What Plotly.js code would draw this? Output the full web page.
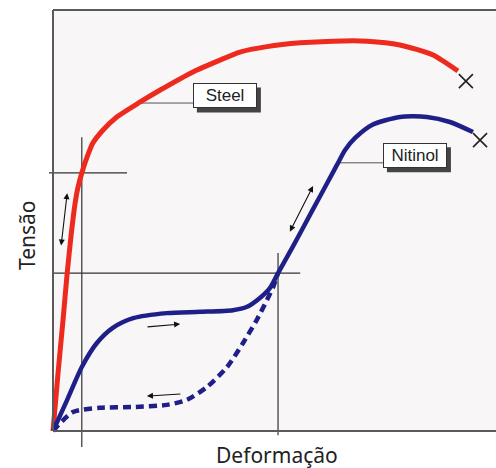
<!DOCTYPE html>
<html>
<head>
<meta charset="utf-8">
<script src="https://cdn.plot.ly/plotly-3.0.1.min.js"></script>
<style>html,body{margin:0;padding:0;background:#fff;}#chart{width:496px;height:468px;}</style>
</head>
<body>
<div id="chart"></div>
<script>
// Stress-strain curves (arbitrary units, strain 0..10, stress 0..10)
const steelStrain = [0, 0.11, 0.23, 0.32, 0.41, 0.50, 0.56, 0.65, 0.77, 0.90, 1.13, 1.44, 1.96, 2.42, 3.16, 3.77, 4.22, 4.83, 5.58, 6.32, 7.09, 7.83, 8.58, 9.14];
const steelStress = [0, 1.33, 2.68, 3.75, 4.66, 5.42, 5.77, 6.13, 6.51, 6.84, 7.15, 7.46, 7.81, 8.10, 8.53, 8.81, 9.00, 9.13, 9.22, 9.26, 9.26, 9.17, 8.93, 8.55];
const steelBreak = [9.32, 8.31];

const nitiLoadStrain = [0, 0.32, 0.65, 0.99, 1.35, 1.81, 2.57, 3.32, 4.06, 4.38, 4.67, 4.90, 5.08, 5.42, 5.87, 6.19, 6.41, 6.59, 6.82, 7.20, 7.83, 8.44, 8.96, 9.48];
const nitiLoadStress = [0, 0.74, 1.52, 2.09, 2.45, 2.68, 2.80, 2.83, 2.87, 2.95, 3.16, 3.40, 3.75, 4.39, 5.27, 5.89, 6.32, 6.67, 6.96, 7.27, 7.46, 7.46, 7.34, 7.10];
const nitiBreak = [9.64, 6.91];

const nitiUnloadStrain = [0, 0.45, 1.06, 1.81, 2.57, 3.02, 3.48, 3.93, 4.29, 4.60, 4.83, 4.97, 5.08];
const nitiUnloadStress = [0, 0.45, 0.55, 0.57, 0.62, 0.74, 1.05, 1.52, 2.09, 2.64, 3.11, 3.42, 3.75];

// reference points (strain, stress)
const steelRef = [0.65, 6.13];
const nitiRef = [5.08, 3.75];

const labels = ["Steel", "Nitinol"];
const xTitle = "Deformação";
const yTitle = "Tensão";

// pixel layout helpers
const W = 496, H = 468;
const pxPerX = 44.3, pxPerY = 42.1;
const x0px = 53, y0px = 431;
const xr = [-x0px / pxPerX, (W - x0px) / pxPerX];
const yr = [-(H - y0px) / pxPerY, y0px / pxPerY];

const red = '#ee2a1e', blue = '#1f1f88', ink = '#333333';

const traces = [
  {x: steelStrain, y: steelStress, mode: 'lines', line: {color: red, width: 5, shape: 'spline', smoothing: 0.6}, hoverinfo: 'skip'},
  {x: nitiUnloadStrain, y: nitiUnloadStress, mode: 'lines', line: {color: blue, width: 4.5, dash: '8px,5px', shape: 'spline', smoothing: 0.7}, hoverinfo: 'skip'},
  {x: nitiLoadStrain, y: nitiLoadStress, mode: 'lines', line: {color: blue, width: 4.5, shape: 'spline', smoothing: 0.7}, hoverinfo: 'skip'},
  {x: [steelBreak[0], nitiBreak[0]], y: [steelBreak[1], nitiBreak[1]], mode: 'markers',
   marker: {symbol: 'x-thin', size: 14, line: {width: 1.6, color: '#222'}}, hoverinfo: 'skip'}
];

const gl = {type: 'line', xref: 'x', yref: 'y', line: {color: ink, width: 1.2}, layer: 'below'};
const boxCenters = [[3.88, 7.96], [8.17, 6.54]];
const shapes = [
  // background fill of frame
  {type: 'rect', xref: 'x', yref: 'y', x0: 0, x1: 11, y0: 0, y1: 10, fillcolor: '#f8f6f6', line: {width: 0}, layer: 'below'},
  // guide lines
  Object.assign({}, gl, {x0: steelRef[0], x1: steelRef[0], y0: -0.38, y1: 6.98}),
  Object.assign({}, gl, {x0: -0.09, x1: 1.67, y0: steelRef[1], y1: steelRef[1]}),
  Object.assign({}, gl, {x0: 0, x1: 5.58, y0: nitiRef[1], y1: nitiRef[1]}),
  Object.assign({}, gl, {x0: nitiRef[0], x1: nitiRef[0], y0: -0.10, y1: 4.23}),
  // leader lines
  Object.assign({}, gl, {x0: 1.96, x1: 3.16, y0: 7.79, y1: 7.79, line: {color: '#555', width: 1}}),
  Object.assign({}, gl, {x0: 6.43, x1: 7.45, y0: 6.37, y1: 6.37, line: {color: '#555', width: 1}}),
  // frame
  {type: 'line', xref: 'x', yref: 'y', x0: 0, x1: 0, y0: 0, y1: 10, line: {color: '#5a5a5a', width: 2}},
  {type: 'line', xref: 'x', yref: 'y', x0: 0, x1: 11, y0: 10, y1: 10, line: {color: '#5a5a5a', width: 2}},
  {type: 'line', xref: 'x', yref: 'y', x0: 0, x1: 11, y0: 0, y1: 0, line: {color: '#5a5a5a', width: 2}}
];
// label box drop shadows
boxCenters.forEach(c => shapes.push({type: 'rect', xref: 'x', yref: 'y', xsizemode: 'pixel', ysizemode: 'pixel',
  xanchor: c[0], yanchor: c[1], x0: -28, x1: 36, y0: -16.5, y1: 8.5, fillcolor: '#444', line: {width: 0}, layer: 'above'}));

function arrow(tail, head, both) {
  return {x: head[0], y: head[1], ax: tail[0], ay: tail[1], xref: 'x', yref: 'y', axref: 'x', ayref: 'y',
    text: '', showarrow: true, arrowhead: 2, startarrowhead: 2, arrowsize: 1.1, startarrowsize: 1.1, arrowwidth: 1.1,
    arrowcolor: '#111', arrowside: both ? 'end+start' : 'end'};
}
function box(text, c) {
  return {x: c[0], y: c[1], xref: 'x', yref: 'y', text: text, showarrow: false, width: 60, height: 21,
    font: {family: 'Liberation Sans, Arial', size: 17, color: '#222'}, borderpad: 1, borderwidth: 1,
    bgcolor: '#ffffff', bordercolor: '#333'};
}

const annotations = [
  arrow([0.18, 4.37], [0.32, 5.65], true),
  arrow([5.33, 4.70], [5.87, 5.82], true),
  arrow([2.10, 2.47], [2.87, 2.54], false),
  arrow([2.91, 0.88], [2.12, 0.83], false),
  box(labels[0], boxCenters[0]),
  box(labels[1], boxCenters[1]),
  {x: (277 - x0px) / pxPerX, y: (y0px - 455) / pxPerY, xref: 'x', yref: 'y', text: xTitle, showarrow: false,
   font: {family: 'Noto Sans', size: 21, color: '#222'}},
  {x: (27 - x0px) / pxPerX, y: (y0px - 235) / pxPerY, xref: 'x', yref: 'y', text: yTitle, showarrow: false, textangle: -90,
   font: {family: 'Noto Sans', size: 21, color: '#222'}}
];

const layout = {
  width: W, height: H,
  margin: {l: 0, r: 0, t: 0, b: 0, pad: 0},
  paper_bgcolor: '#ffffff', plot_bgcolor: '#ffffff',
  showlegend: false,
  xaxis: {range: xr, visible: false, fixedrange: true},
  yaxis: {range: yr, visible: false, fixedrange: true},
  shapes: shapes,
  annotations: annotations
};

Plotly.newPlot('chart', traces, layout, {staticPlot: true, displayModeBar: false});
</script>
</body>
</html>
